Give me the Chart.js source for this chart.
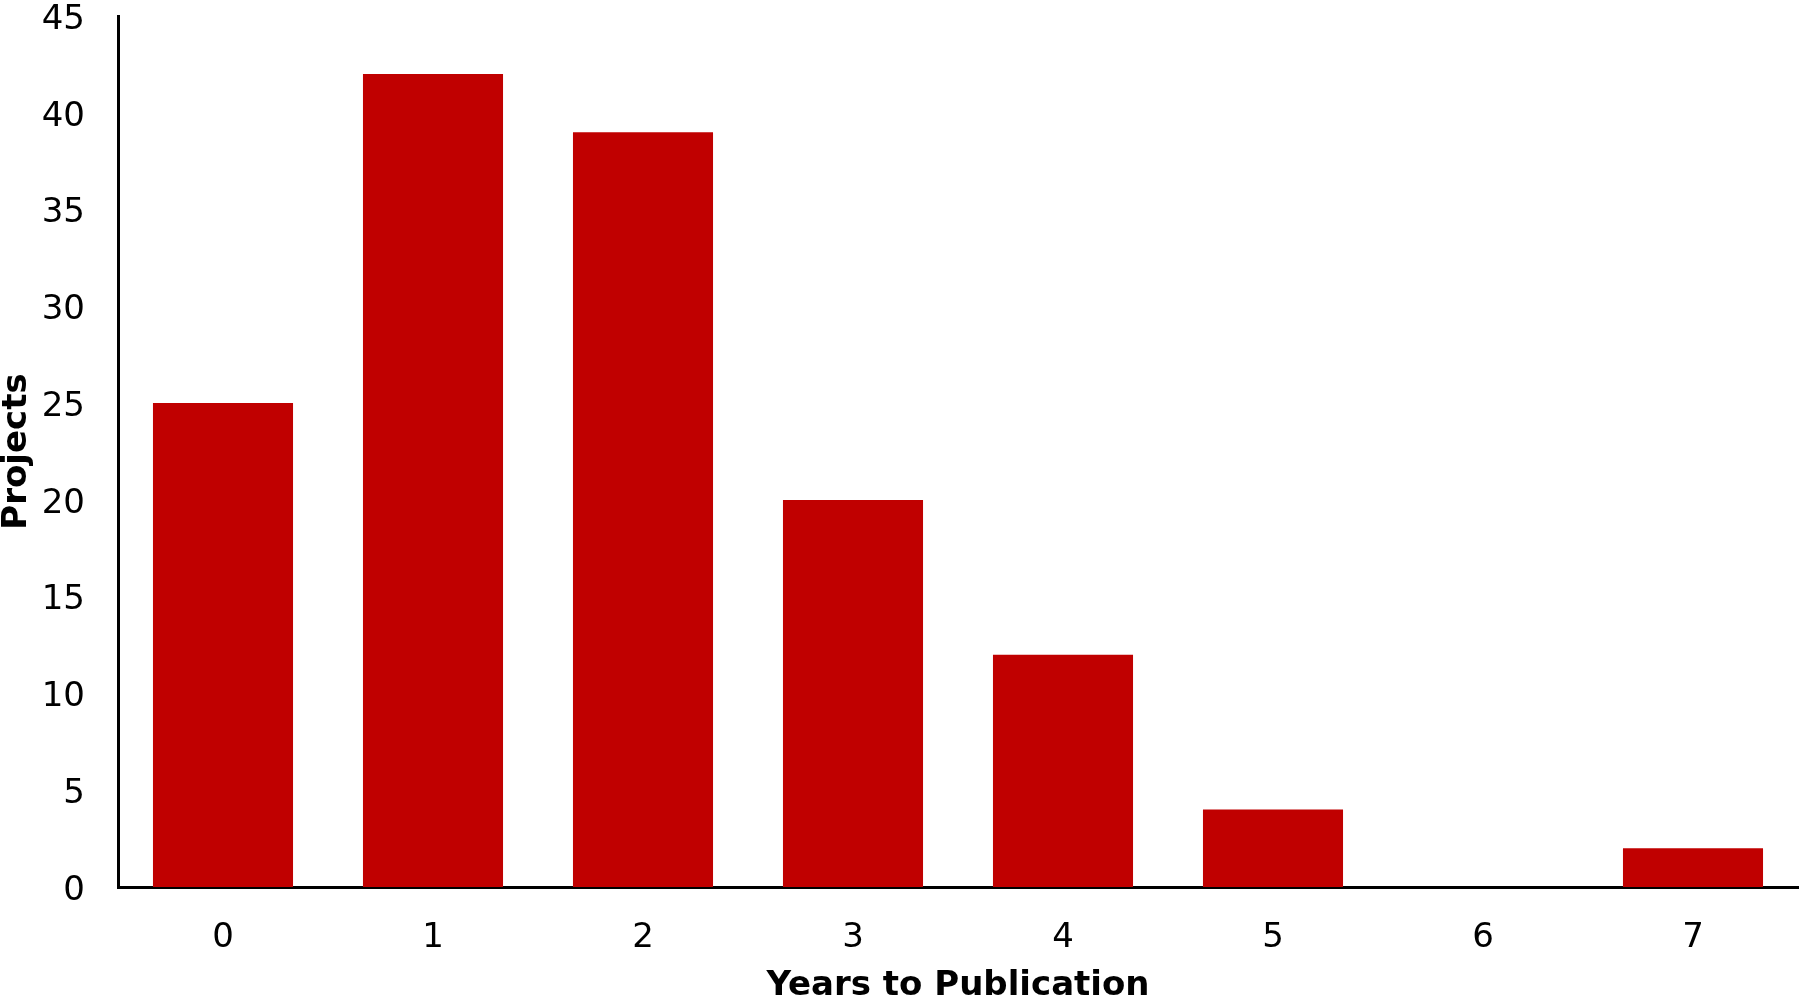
<!DOCTYPE html>
<html>
<head>
<meta charset="utf-8">
<title>Years to Publication</title>
<script src="https://cdn.jsdelivr.net/npm/chart.js@4"></script>
<style>
  html, body { margin: 0; padding: 0; background: #fff; }
  canvas { display: block; }
</style>
</head>
<body>
<canvas id="chart_years" width="1800" height="998"></canvas>
<script>
// data
let years = ['0', '1', '2', '3', '4', '5', '6', '7'];
let projects = [25, 42, 39, 20, 12, 4, 0, 2];
let yTicks = [0, 5, 10, 15, 20, 25, 30, 35, 40, 45];

let barColor = '#C00000';
let fontFamily = "'DejaVu Sans', Verdana, sans-serif";

let chart = new Chart(document.getElementById('chart_years'), {
  type: 'bar',
  data: {
    labels: years,
    datasets: [{
      label: 'Projects',
      data: projects,
      backgroundColor: barColor,
      borderWidth: 0,
      barPercentage: 0.667,
      categoryPercentage: 1
    }]
  },
  options: {
    responsive: false,
    animation: false,
    layout: {
      padding: { top: 16, right: 2, left: 0, bottom: 0 }
    },
    plugins: {
      legend: { display: false },
      tooltip: { enabled: false }
    },
    scales: {
      x: {
        grid: { display: false, drawTicks: false },
        border: { display: true, color: '#000', width: 3 },
        ticks: {
          color: '#000',
          padding: 34,
          font: { family: fontFamily, size: 34, lineHeight: 1 }
        },
        title: {
          display: true,
          text: 'Years to Publication',
          color: '#000',
          padding: 0,
          font: { family: fontFamily, size: 34, weight: 'bold', lineHeight: 0.7 }
        },
        afterFit: function(scale) {
          scale.height = 111;
        }
      },
      y: {
        min: yTicks[0],
        max: yTicks[yTicks.length - 1],
        grid: { display: false, drawTicks: false },
        border: { display: true, color: '#000', width: 3 },
        ticks: {
          stepSize: yTicks[1] - yTicks[0],
          color: '#000',
          padding: 33,
          labelOffset: 4,
          font: { family: fontFamily, size: 34, lineHeight: 1 }
        },
        title: {
          display: true,
          text: 'Projects',
          color: '#000',
          padding: 0,
          font: { family: fontFamily, size: 34, weight: 'bold', lineHeight: 1 }
        },
        afterFit: function(scale) {
          // top label may stick out above the plot, like the original
          scale.width = 118;
          scale.paddingTop = 0;
          scale.paddingBottom = 0;
        }
      }
    }
  }
});
</script>
</body>
</html>
